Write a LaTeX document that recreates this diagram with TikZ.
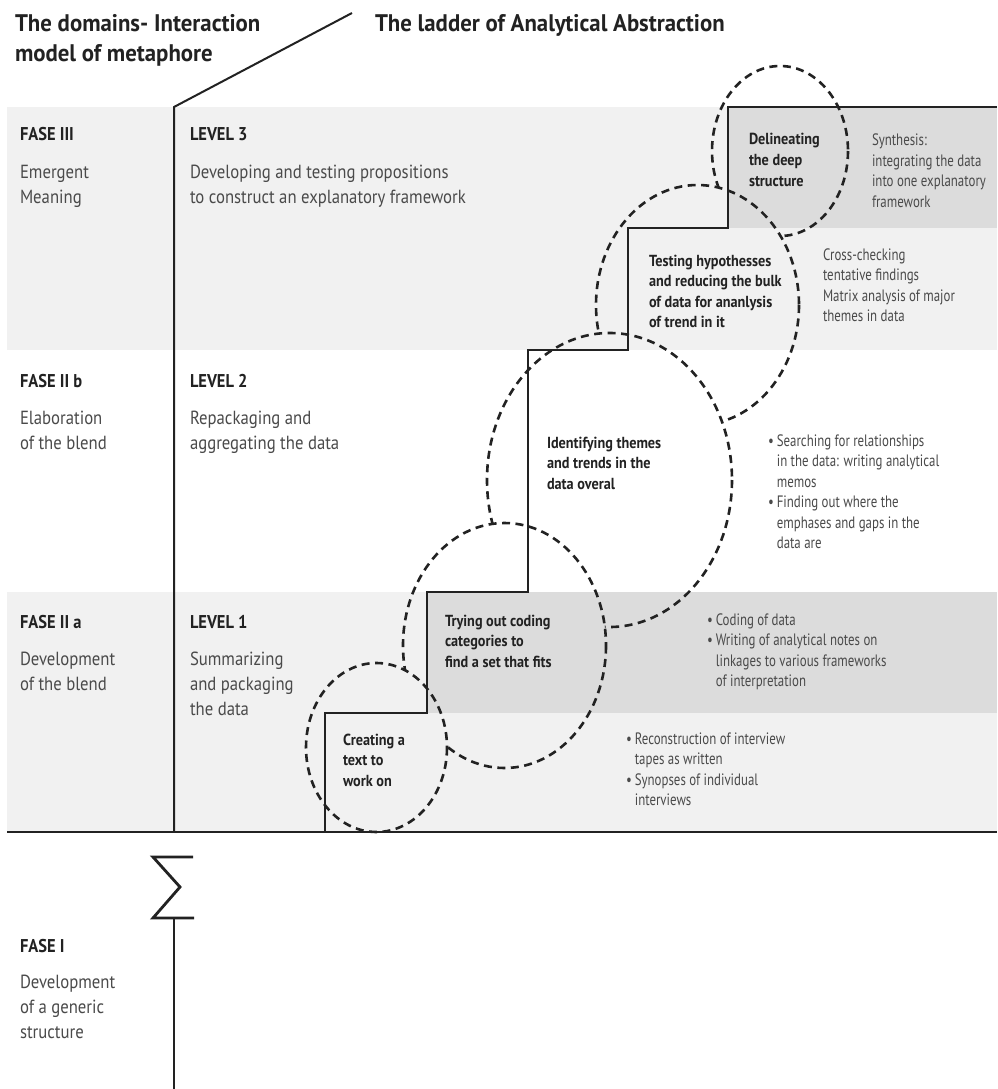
\documentclass[tikz,border=0pt]{standalone}
\usepackage{fontspec}
\setmainfont{PT Sans}
\newfontfamily\headfont{PT Sans}[FakeStretch=0.95]
\newfontfamily\stepfont{PT Sans}[FakeStretch=0.89]
\newfontfamily\bodyfont{PT Sans}[FakeStretch=0.88]
\newfontfamily\notefont{PT Sans}[FakeStretch=0.78]
\definecolor{bandlight}{HTML}{F1F1F1}
\definecolor{banddark}{HTML}{DCDCDC}
\definecolor{ink}{HTML}{222222}
\definecolor{softink}{HTML}{4A4A4A}
% stacked lines whose baseline is the first line's baseline
\newcommand\lns[1]{\begin{tabular}[t]{@{}l@{}}#1\end{tabular}}
% bulleted list with hanging indent
\newcommand\blt[1]{\begin{tabular}[t]{@{}l@{\hspace{3pt}}l@{}}#1\end{tabular}}
\tikzset{
  every node/.style={inner sep=0pt, outer sep=0pt, anchor=base west},
  head/.style={font=\headfont\bfseries\fontsize{24}{30}\selectfont, text=ink},
  title/.style={font=\stepfont\bfseries\fontsize{18.5}{25}\selectfont, text=ink},
  body/.style={font=\bodyfont\fontsize{19}{25}\selectfont, text=softink},
  stepnote/.style={font=\stepfont\bfseries\fontsize{16}{20.5}\selectfont, text=ink},
  note/.style={font=\notefont\fontsize{16.5}{20.5}\selectfont, text=softink},
  loop/.style={draw=ink, line width=2.6pt, dash pattern=on 8pt off 5.5pt},
  stair/.style={draw=ink, line width=2.8pt, line join=miter},
  axis/.style={draw=ink, line width=2pt},
}
\begin{document}
\begin{tikzpicture}[x=1pt,y=-1pt]
\useasboundingbox (0,0) rectangle (997,1089);
\fill[white] (0,0) rectangle (997,1089);

% bands
\fill[bandlight] (7,107) rectangle (997,350);
\fill[banddark] (728,107) rectangle (997,228);
\fill[bandlight] (7,592) rectangle (997,832);
\fill[banddark] (427,592) rectangle (997,713);

% staircase of abstraction
\coordinate (s0) at (325,832);
\coordinate (s1) at (427,713);
\coordinate (s2) at (528,592);
\coordinate (s3) at (628,350);
\coordinate (s4) at (728,228);
\coordinate (s5) at (997,107);
\draw[stair] (s0) |- (s1) |- (s2) |- (s3) |- (s4) |- (s5);

% ground line and axis
\coordinate (g0) at (7,832);
\coordinate (g1) at (997,832);
\draw[axis, line width=2.4pt] (g0) -- (g1);
\coordinate (a0) at (174,832);
\coordinate (a1) at (174,107);
\coordinate (a2) at (352,13);
\draw[axis] (a0) -- (a1) -- (a2);

% sigma and lower axis
\coordinate (z0) at (193,857);
\coordinate (z1) at (153,857);
\coordinate (z2) at (180,887);
\coordinate (z3) at (153,918);
\coordinate (z4) at (194,918);
\draw[axis, line width=2.8pt, line join=miter] (z0) -- (z1) -- (z2) -- (z3) -- (z4);
\coordinate (b0) at (174,918);
\coordinate (b1) at (174,1089);
\draw[axis] (b0) -- (b1);

% dashed loops, each lower loop lies over the next one
\coordinate (c1) at (376.5,747.5);
\coordinate (c2) at (504.5,645.5);
\coordinate (c3) at (609.5,480);
\coordinate (c4) at (697.5,305);
\coordinate (c5) at (780,151);
\draw[loop] (c1) ellipse [x radius=70.5, y radius=84.5];
\begin{scope}[even odd rule]
  \clip (0,0) rectangle (997,1089) (c1) ellipse [x radius=70.5, y radius=84.5];
  \draw[loop] (c2) ellipse [x radius=101.5, y radius=122.5];
\end{scope}
\begin{scope}[even odd rule]
  \clip (0,0) rectangle (997,1089) (c2) ellipse [x radius=101.5, y radius=122.5];
  \draw[loop] (c3) ellipse [x radius=122.5, y radius=147];
\end{scope}
\begin{scope}[even odd rule]
  \clip (0,0) rectangle (997,1089) (c3) ellipse [x radius=122.5, y radius=147];
  \draw[loop] (c4) ellipse [x radius=101.5, y radius=120];
\end{scope}
\begin{scope}[even odd rule]
  \clip (0,0) rectangle (997,1089) (c4) ellipse [x radius=101.5, y radius=120];
  \draw[loop] (c5) ellipse [x radius=68, y radius=85];
\end{scope}

% headings
\node[head] (hdl) at (15,32) {\lns{The domains- Interaction\\model of metaphore}};
\node[head] (hdr) at (375,32) {The ladder of Analytical Abstraction};

% phases
\node[title] (f3) at (20,141) {FASE III};
\node[body] (f3t) at (20,178) {\lns{Emergent\\Meaning}};
\node[title] (f2b) at (20,387) {FASE II b};
\node[body] (f2bt) at (20,424) {\lns{Elaboration\\of the blend}};
\node[title] (f2a) at (20,628) {FASE II a};
\node[body] (f2at) at (20,665) {\lns{Development\\of the blend}};
\node[title] (f1) at (20,952) {FASE I};
\node[body] (f1t) at (20,988) {\lns{Development\\of a generic\\structure}};

% levels
\node[title] (l3) at (190,141) {LEVEL 3};
\node[body] (l3t) at (190,178) {\lns{Developing and testing propositions\\to construct an explanatory framework}};
\node[title] (l2) at (190,387) {LEVEL 2};
\node[body] (l2t) at (190,424) {\lns{Repackaging and\\aggregating the data}};
\node[title] (l1) at (190,628) {LEVEL 1};
\node[body] (l1t) at (190,665) {\lns{Summarizing\\and packaging\\the data}};

% steps
\node[stepnote] (t5) at (749,145) {\lns{Delineating\\the deep\\structure}};
\node[note] (n5) at (872,146) {\lns{Synthesis:\\integrating the data\\into one explanatory\\framework}};
\node[stepnote] (t4) at (649,266) {\lns{Testing hypothesses\\and reducing the bulk\\of data for ananlysis\\of trend in it}};
\node[note] (n4) at (823,260) {\lns{Cross-checking\\tentative findings\\Matrix analysis of major\\themes in data}};
\node[stepnote] (t3) at (547,448) {\lns{Identifying themes\\and trends in the\\data overal}};
\node[note] (n3) at (768,446) {\blt{\textbullet & Searching for relationships\\ & in the data: writing analytical\\ & memos\\ \textbullet & Finding out where the\\ & emphases and gaps in the\\ & data are}};
\node[stepnote] (t2) at (445,626) {\lns{Trying out coding\\categories to\\find a set that fits}};
\node[note] (n2) at (707,625) {\blt{\textbullet & Coding of data\\ \textbullet & Writing of analytical notes on\\ & linkages to various frameworks\\ & of interpretation}};
\node[stepnote] (t1) at (343,745) {\lns{Creating a\\text to\\work on}};
\node[note] (n1) at (626,744) {\blt{\textbullet & Reconstruction of interview\\ & tapes as written\\ \textbullet & Synopses of individual\\ & interviews}};
\end{tikzpicture}
\end{document}
